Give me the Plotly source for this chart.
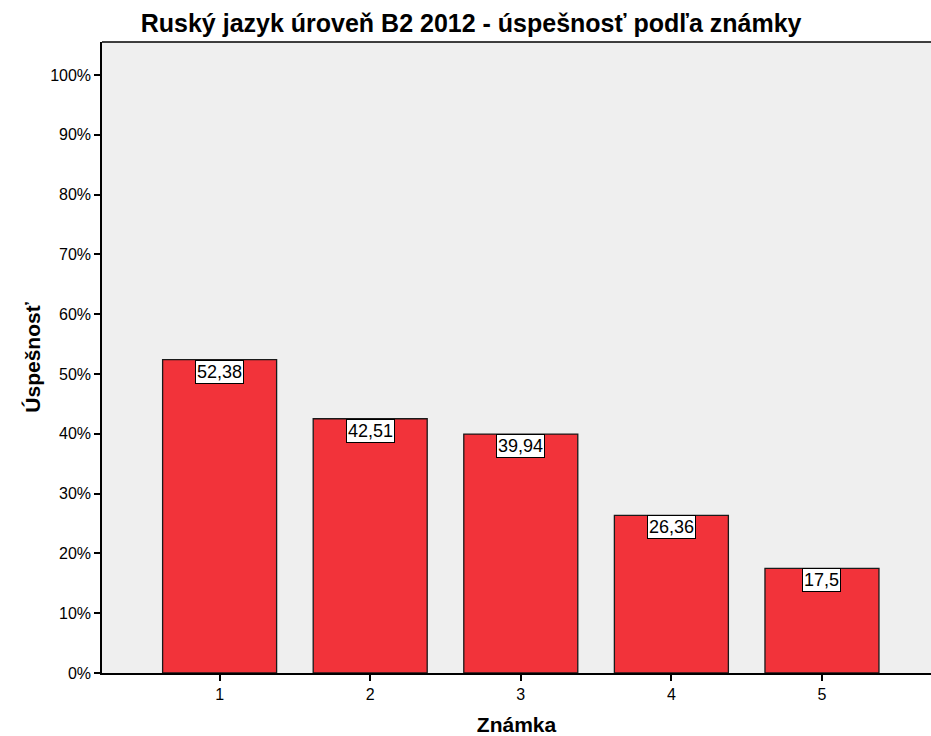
import plotly.graph_objects as go

categories = ["1", "2", "3", "4", "5"]
values = [52.38, 42.51, 39.94, 26.36, 17.5]
labels = ["52,38", "42,51", "39,94", "26,36", "17,5"]
tick_vals = [0, 10, 20, 30, 40, 50, 60, 70, 80, 90, 100]
tick_text = [f"{v}%" for v in tick_vals]

FONT = "Liberation Sans, Arial, sans-serif"
xpos = [int(c) for c in categories]

fig = go.Figure()
fig.add_trace(go.Bar(
    x=xpos, y=values,
    marker=dict(color="#F2333A", line=dict(color="#1a1a1a", width=1.3)),
    width=0.757,
    hoverinfo="skip",
))

for x, v, t in zip(xpos, values, labels):
    fig.add_annotation(
        x=x, y=v, xref="x", yref="y", text=t, showarrow=False,
        yanchor="top", xanchor="center",
        font=dict(family=FONT, size=18, color="black"),
        bgcolor="white", bordercolor="black", borderwidth=1, borderpad=1,
    )

fig.add_shape(type="line", xref="paper", yref="paper", x0=0, x1=1, y0=1, y1=1,
              line=dict(color="black", width=1.5))

fig.update_layout(
    width=931, height=736,
    margin=dict(l=102, r=0, t=42, b=63),
    paper_bgcolor="white", plot_bgcolor="#EFEFEF",
    showlegend=False,
    title=dict(text="<b>Ruský jazyk úroveň B2 2012 - úspešnosť podľa známky</b>",
               x=0.506, xanchor="center", y=0.969, yanchor="middle",
               font=dict(family=FONT, size=25, color="black")),
    font=dict(family=FONT, color="black"),
)

fig.update_xaxes(
    range=[0.219, 5.724], tickvals=xpos, ticktext=categories,
    ticks="outside", ticklen=6, tickwidth=1.5, tickcolor="black",
    showline=True, linecolor="black", linewidth=1.5,
    showgrid=False, zeroline=False,
    tickfont=dict(family=FONT, size=16, color="black"),
    title=dict(text="<b>Známka</b>", font=dict(family=FONT, size=21, color="black"), standoff=18),
)
fig.update_yaxes(
    range=[0, 105.5], tickvals=tick_vals, ticktext=tick_text,
    ticks="outside", ticklen=6, tickwidth=1.5, tickcolor="black",
    showline=True, linecolor="black", linewidth=1.5,
    showgrid=False, zeroline=False,
    tickfont=dict(family=FONT, size=16, color="black"),
    title=dict(text="<b>Úspešnosť</b>", font=dict(family=FONT, size=21, color="black"), standoff=4),
)

fig.write_html("out.html")
